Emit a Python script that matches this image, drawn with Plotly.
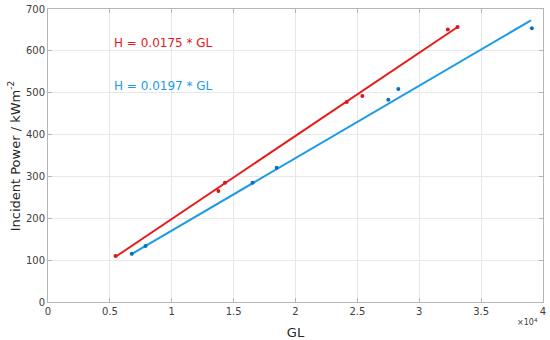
import plotly.graph_objects as go

# Data
red_gl = [5460, 13770, 14300, 24140, 25400, 32310, 33100]
red_h = [110, 265, 285, 478, 492, 651, 657]
blue_gl = [6770, 7880, 16530, 18480, 27500, 28310, 39100]
blue_h = [115, 134, 285, 321, 483, 509, 654]

red_fit_gl = [5550, 33100]
red_fit_h = [110, 657]
blue_fit_gl = [6720, 39030]
blue_fit_h = [114, 673]

x_tickvals = [0, 5000, 10000, 15000, 20000, 25000, 30000, 35000, 40000]
x_ticktext = ["0", "0.5", "1", "1.5", "2", "2.5", "3", "3.5", "4"]
y_tickvals = [0, 100, 200, 300, 400, 500, 600, 700]

red_eq = "H = 0.0175 * GL"
blue_eq = "H = 0.0197 * GL"
y_title = "Incident Power / kWm<sup>-2</sup>"

RED_LINE = "#e8191b"
RED_MK = "#e0141c"
BLUE_LINE = "#1c9be6"
BLUE_MK = "#0a6fbf"
FONT = "DejaVu Sans"

fig = go.Figure()
fig.add_trace(go.Scatter(x=red_fit_gl, y=red_fit_h, mode="lines",
                         line=dict(color=RED_LINE, width=2), showlegend=False))
fig.add_trace(go.Scatter(x=blue_fit_gl, y=blue_fit_h, mode="lines",
                         line=dict(color=BLUE_LINE, width=2), showlegend=False))
fig.add_trace(go.Scatter(x=red_gl, y=red_h, mode="markers",
                         marker=dict(color=RED_MK, size=4), showlegend=False))
fig.add_trace(go.Scatter(x=blue_gl, y=blue_h, mode="markers",
                         marker=dict(color=BLUE_MK, size=4), showlegend=False))

fig.add_annotation(x=5150, y=618, text=red_eq, showarrow=False, xanchor="left",
                   yanchor="middle", font=dict(color=RED_LINE, size=12, family=FONT))
fig.add_annotation(x=5150, y=517, text=blue_eq, showarrow=False, xanchor="left",
                   yanchor="middle", font=dict(color=BLUE_LINE, size=12, family=FONT))
fig.add_annotation(x=0.993, y=-0.068, xref="paper", yref="paper", xanchor="right",
                   yanchor="middle", text="×10<sup>4</sup>", showarrow=False,
                   font=dict(color="#404040", size=8, family=FONT))
fig.add_annotation(x=-0.069, y=0.5, xref="paper", yref="paper", xanchor="center",
                   yanchor="middle", text=y_title, textangle=-90, showarrow=False,
                   font=dict(color="#262626", size=13, family=FONT))

axis_common = dict(showgrid=True, gridcolor="#e8e8e8", gridwidth=1,
                   showline=True, linecolor="#b5b5b5", linewidth=1,
                   mirror="allticks", ticks="inside", ticklen=4,
                   tickcolor="#b5b5b5", zeroline=False, automargin=False,
                   tickfont=dict(size=10, color="#404040", family=FONT))

fig.update_xaxes(range=[0, 40000], tickvals=x_tickvals, ticktext=x_ticktext,
                 title=dict(text="GL", font=dict(size=13, color="#262626", family=FONT)),
                 **axis_common)
fig.update_yaxes(range=[0, 700], tickvals=y_tickvals, **axis_common)

fig.update_layout(width=550, height=340, margin=dict(l=48, r=7, t=9, b=38),
                  plot_bgcolor="white", paper_bgcolor="white",
                  font=dict(family=FONT))

fig.write_html("out.html", config={"displayModeBar": False},
               post_script="document.body.style.margin='0';")
